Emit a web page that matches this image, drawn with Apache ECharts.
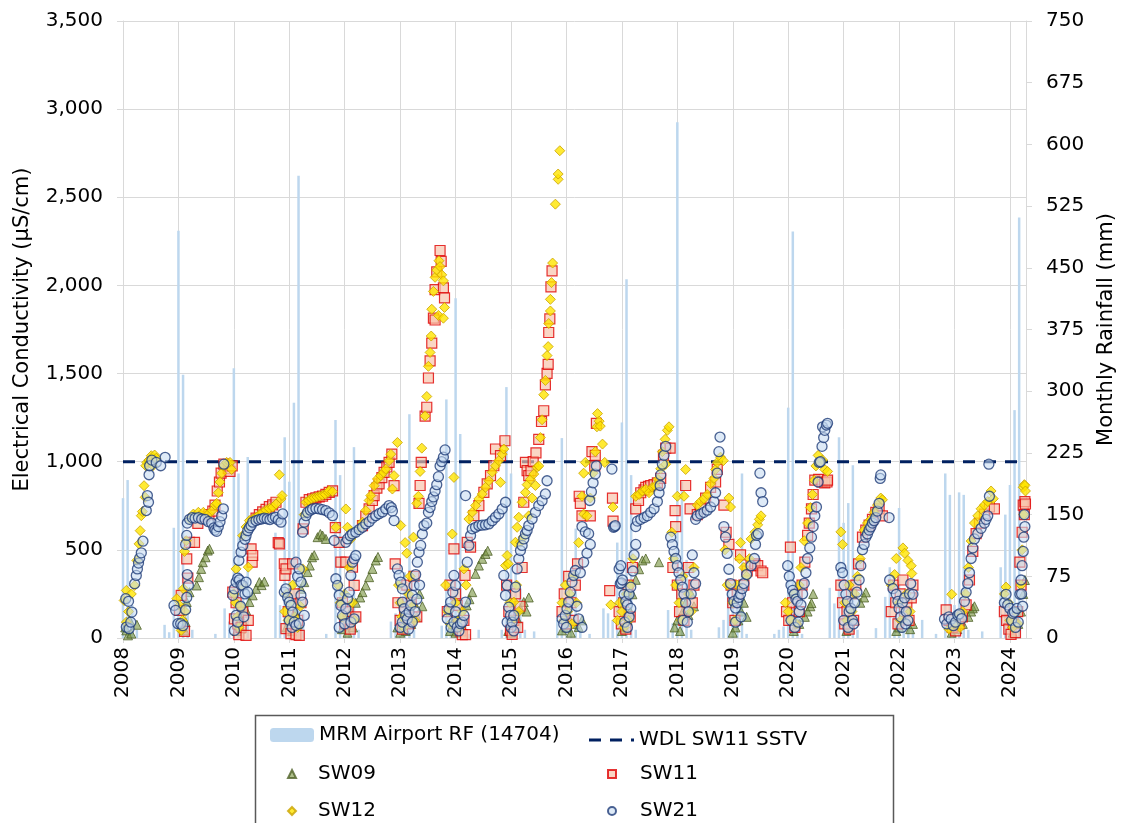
<!DOCTYPE html>
<html>
<head>
<meta charset="utf-8">
<script src="https://cdn.jsdelivr.net/npm/echarts@6/dist/echarts.min.js"></script>
<style>
html,body{margin:0;padding:0;background:#fff;}
#chart{width:1125px;height:823px;}
</style>
</head>
<body>
<div id="chart"></div>
<script>
// ---------------- DATA ----------------
const xMin = 2008, xMax = 2024.29;
const ecTicks = [0, 500, 1000, 1500, 2000, 2500, 3000, 3500];
const rainTicks = [0, 75, 150, 225, 300, 375, 450, 525, 600, 675, 750];
const sstvValue = 1000;

// Monthly rainfall (mm), Jan..Dec, starting Jan 2008
const rainFirstYear = 2008;
const rainMm = [
  170,192,40,10,0,0,0,0,0,16,7,134,      // 2008
  495,320,30,10,0,0,0,0,5,0,36,20,       // 2009
  328,200,60,220,0,0,0,0,0,128,40,244,   // 2010
  190,286,562,30,0,0,0,0,5,0,265,198,    // 2011
  60,40,232,10,0,0,0,0,0,0,20,30,        // 2012
  40,80,272,10,0,0,0,0,0,15,290,50,      // 2013
  413,248,40,5,0,10,0,0,0,0,10,305,      // 2014
  200,80,60,10,0,8,0,0,0,0,22,243,       // 2015
  50,50,133,10,0,5,0,0,36,30,22,116,     // 2016
  262,436,198,10,0,0,0,0,0,0,34,18,      // 2017
  627,190,95,10,0,0,0,0,0,13,22,73,      // 2018
  42,50,200,5,0,0,0,0,0,5,10,14,         // 2019
  280,494,30,5,0,0,0,0,0,61,42,244,      // 2020
  140,164,210,10,0,0,0,12,0,50,86,26,    // 2021
  158,40,30,10,0,22,0,0,5,0,200,174,     // 2022
  40,177,174,10,0,0,8,0,0,0,86,150,      // 2023
  186,277,511                            // 2024
];

// EC readings [decimal year, µS/cm]
const sw09 = [
  [2008.04,60],[2008.06,43],[2008.09,15],[2008.12,100],[2008.15,25],[2008.25,75],
  [2009.08,60],[2009.11,43],[2009.13,90],[2009.15,204],[2009.2,260],[2009.33,298],[2009.37,345],[2009.41,392],[2009.44,430],[2009.49,458],[2009.53,496],[2009.56,506],
  [2010.05,40],[2010.1,80],[2010.13,53],[2010.16,100],[2010.22,157],[2010.28,204],[2010.34,242],[2010.4,279],[2010.46,317],[2010.5,300],[2010.55,320],
  [2010.95,60],[2011.0,100],[2011.05,40],[2011.1,150],[2011.15,80],[2011.21,279],[2011.27,317],[2011.33,374],[2011.37,411],[2011.41,458],[2011.45,470],[2011.51,572],[2011.56,590],[2011.6,581],[2011.66,562],
  [2011.95,50],[2012.0,80],[2012.05,30],[2012.1,150],[2012.15,60],[2012.2,200],[2012.28,230],[2012.32,260],[2012.38,298],[2012.44,345],[2012.5,392],[2012.56,440],[2012.6,460],
  [2012.95,60],[2013.0,30],[2013.05,100],[2013.1,40],[2013.15,150],[2013.2,80],[2013.25,200],[2013.3,120],[2013.35,250],[2013.4,180],
  [2013.9,40],[2013.95,80],[2014.0,30],[2014.05,100],[2014.1,60],[2014.2,185],[2014.25,220],[2014.3,260],[2014.36,364],[2014.42,411],[2014.48,449],[2014.54,477],[2014.58,495],
  [2014.95,40],[2015.0,30],[2015.05,60],[2015.11,109],[2015.17,166],[2015.23,204],[2015.28,150],[2015.32,230],
  [2015.92,43],[2016.0,60],[2016.08,30],[2016.15,80],[2016.22,62],[2016.28,100],
  [2017.0,40],[2017.05,60],[2017.1,100],[2017.15,150],[2017.19,248],[2017.25,330],[2017.31,390],[2017.37,440],[2017.43,451],[2017.67,430],
  [2017.95,60],[2018.0,100],[2018.05,40],[2018.1,150],[2018.15,200],[2018.2,130],[2018.25,250],[2018.3,180],
  [2019.0,30],[2019.05,60],[2019.1,100],[2019.15,150],[2019.2,200],[2019.25,120],
  [2020.1,40],[2020.2,80],[2020.3,120],[2020.35,150],[2020.4,180],[2020.42,198],[2020.45,250],
  [2021.05,40],[2021.1,60],[2021.2,100],[2021.3,200],[2021.37,230],[2021.4,259],
  [2021.95,40],[2022.0,60],[2022.1,100],[2022.2,50],[2022.25,80],
  [2022.95,30],[2023.05,50],[2023.15,80],[2023.25,120],[2023.3,150],[2023.33,168],[2023.36,180],
  [2024.05,30],[2024.15,80],[2024.2,150],[2024.24,250],[2024.27,329]
];

const sw11 = [
  [2009.02,157],[2009.05,242],[2009.11,38],[2009.15,449],[2009.17,340],[2009.2,543],[2009.29,543],[2009.35,650],[2009.45,690],[2009.55,700],[2009.62,720],[2009.66,754],[2009.7,834],[2009.74,885],[2009.77,935],[2009.82,986],[2009.9,960],[2009.93,945],[2009.97,976],
  [2009.98,260],[2010.01,109],[2010.04,200],[2010.07,80],[2010.09,19],[2010.13,60],[2010.16,147],[2010.22,15],[2010.26,100],[2010.31,506],[2010.33,430],[2010.34,468],[2010.4,680],[2010.46,700],[2010.52,715],[2010.58,730],[2010.64,745],[2010.7,755],[2010.76,770],[2010.8,541],[2010.82,534],
  [2010.91,421],[2010.92,355],[2010.94,53],[2010.94,392],[2010.98,150],[2011.03,25],[2011.06,421],[2011.09,250],[2011.12,19],[2011.15,100],[2011.18,15],[2011.21,200],[2011.25,619],[2011.3,770],[2011.36,785],[2011.42,790],[2011.48,795],[2011.54,800],[2011.6,805],[2011.66,815],[2011.72,826],[2011.78,835],[2011.83,626],[2011.9,543],
  [2011.93,430],[2011.96,200],[2012.0,80],[2012.02,430],[2012.06,150],[2012.1,50],[2012.14,402],[2012.17,298],[2012.2,120],[2012.32,638],[2012.38,690],[2012.44,732],[2012.5,780],[2012.53,808],[2012.58,850],[2012.62,874],[2012.67,910],[2012.71,940],[2012.76,970],[2012.8,996],[2012.85,1043],[2012.89,864],[2012.91,421],
  [2012.96,200],[2013.0,100],[2013.04,50],[2013.08,150],[2013.12,300],[2013.16,80],[2013.2,200],[2013.25,350],[2013.3,120],[2013.34,764],[2013.36,865],[2013.38,996],[2013.45,1259],[2013.48,1309],[2013.51,1475],[2013.54,1572],[2013.57,1673],[2013.6,1814],[2013.63,1976],[2013.63,1804],[2013.66,2077],[2013.72,2198],[2013.74,2137],[2013.78,1986],[2013.8,1929],
  [2013.85,150],[2013.9,300],[2013.97,506],[2014.0,250],[2014.03,185],[2014.06,80],[2014.09,40],[2014.12,19],[2014.15,100],[2014.17,355],[2014.18,19],[2014.21,543],[2014.27,515],[2014.33,694],[2014.42,751],[2014.51,826],[2014.57,874],[2014.63,921],[2014.69,977],[2014.72,1072],[2014.81,1034],[2014.89,1119],
  [2014.92,300],[2014.96,150],[2014.99,43],[2015.02,20],[2015.05,100],[2015.08,250],[2015.12,60],[2015.16,180],[2015.2,400],[2015.23,770],[2015.26,996],[2015.29,949],[2015.32,921],[2015.36,950],[2015.4,1000],[2015.45,1050],[2015.5,1127],[2015.55,1228],[2015.59,1289],[2015.62,1436],[2015.65,1501],[2015.67,1552],[2015.68,1733],[2015.7,1810],[2015.72,1992],[2015.74,2083],
  [2015.92,150],[2015.96,250],[2016.0,80],[2016.04,350],[2016.08,200],[2016.12,100],[2016.16,300],[2016.2,420],[2016.23,804],[2016.25,764],[2016.28,693],[2016.43,693],[2016.46,1057],[2016.51,976],[2016.52,1036],[2016.54,1218],[2016.78,269],[2016.83,794],[2016.84,663],
  [2016.95,150],[2016.99,80],[2017.03,200],[2017.07,50],[2017.11,300],[2017.15,120],[2017.19,400],[2017.25,733],[2017.3,780],[2017.34,824],[2017.4,840],[2017.43,855],[2017.48,860],[2017.52,865],[2017.58,870],[2017.64,880],[2017.7,905],[2017.75,1036],[2017.79,1077],[2017.87,1077],
  [2017.92,400],[2017.96,723],[2017.97,632],[2018.0,300],[2018.04,150],[2018.08,250],[2018.12,100],[2018.15,865],[2018.2,400],[2018.23,733],[2018.27,200],[2018.3,300],[2018.36,700],[2018.42,733],[2018.51,794],[2018.6,855],[2018.69,885],[2018.72,956],
  [2018.84,754],[2018.88,600],[2018.93,531],[2018.97,300],[2019.0,200],[2019.04,100],[2019.08,250],[2019.14,471],[2019.2,300],[2019.26,380],[2019.33,410],[2019.4,420],[2019.45,410],[2019.51,380],[2019.54,370],
  [2019.97,150],[2020.01,100],[2020.04,515],[2020.08,200],[2020.12,60],[2020.16,250],[2020.2,150],[2020.25,300],[2020.3,430],[2020.35,582],[2020.38,652],[2020.42,733],[2020.45,814],[2020.48,895],[2020.55,900],[2020.61,885],[2020.66,880],[2020.7,885],[2020.71,895],
  [2020.95,300],[2020.98,200],[2021.02,80],[2021.06,150],[2021.1,50],[2021.14,250],[2021.18,100],[2021.22,300],[2021.27,420],[2021.34,572],[2021.4,612],[2021.46,640],[2021.52,673],[2021.58,713],[2021.64,733],[2021.7,693],
  [2021.86,150],[2021.9,300],[2021.94,200],[2021.98,80],[2022.02,250],[2022.07,329],[2022.1,150],[2022.14,200],[2022.18,100],[2022.22,228],[2022.25,300],
  [2022.85,160],[2022.9,100],[2022.96,60],[2023.02,40],[2023.08,80],[2023.14,120],[2023.21,188],[2023.27,329],[2023.33,491],[2023.39,592],[2023.45,652],[2023.54,703],[2023.63,743],[2023.72,733],
  [2023.9,150],[2023.94,100],[2023.98,50],[2024.02,20],[2024.06,80],[2024.1,30],[2024.14,150],[2024.18,430],[2024.2,300],[2024.22,600],[2024.24,754],[2024.26,700],[2024.27,774],[2024.28,760]
];

const sw12 = [
  [2008.02,213],[2008.06,270],[2008.06,90],[2008.1,150],[2008.15,250],[2008.21,298],[2008.25,440],[2008.29,534],[2008.31,609],[2008.33,694],[2008.35,717],[2008.38,864],[2008.4,798],[2008.41,977],[2008.43,996],[2008.47,1010],[2008.51,1034],[2008.54,977],[2008.57,1038],[2008.6,1020],
  [2008.97,223],[2009.02,185],[2009.05,43],[2009.07,100],[2009.09,279],[2009.11,491],[2009.12,150],[2009.14,552],[2009.2,673],[2009.27,703],[2009.36,713],[2009.45,713],[2009.54,703],[2009.61,723],[2009.66,754],[2009.69,764],[2009.72,824],[2009.75,885],[2009.78,935],[2009.81,976],[2009.87,996],[2009.93,996],[2009.96,956],
  [2010.0,250],[2010.03,200],[2010.04,392],[2010.06,120],[2010.09,60],[2010.12,180],[2010.15,300],[2010.26,402],[2010.16,581],[2010.22,630],[2010.28,666],[2010.34,675],[2010.4,685],[2010.46,700],[2010.52,712],[2010.58,725],[2010.64,735],[2010.7,742],[2010.76,760],[2010.82,926],[2010.85,789],[2010.87,808],
  [2010.92,150],[2010.95,250],[2010.98,100],[2011.02,200],[2011.06,300],[2011.1,120],[2011.15,60],[2011.2,180],[2011.24,392],[2011.27,700],[2011.3,770],[2011.35,780],[2011.4,790],[2011.45,795],[2011.5,800],[2011.55,805],[2011.6,810],[2011.65,815],[2011.7,826],[2011.72,836],[2011.78,830],[2011.84,628],
  [2011.88,300],[2011.92,200],[2011.95,120],[2012.0,250],[2012.02,732],[2012.05,628],[2012.08,400],[2012.11,562],[2012.14,200],[2012.18,100],[2012.26,619],[2012.32,657],[2012.38,723],[2012.44,780],[2012.47,808],[2012.53,864],[2012.59,902],[2012.65,921],[2012.7,940],[2012.74,958],[2012.8,1006],[2012.83,1043],[2012.86,845],[2012.89,921],[2012.95,1109],[2013.01,638],
  [2012.97,300],[2013.0,200],[2013.03,120],[2013.06,60],[2013.09,541],[2013.12,481],[2013.15,250],[2013.18,350],[2013.22,180],[2013.24,572],[2013.26,100],[2013.3,764],[2013.33,804],[2013.36,945],[2013.39,1077],[2013.45,1260],[2013.48,1370],[2013.51,1541],[2013.54,1620],[2013.56,1713],[2013.57,1865],[2013.6,1966],[2013.63,2046],[2013.66,2087],[2013.69,1830],[2013.7,2140],[2013.72,2107],[2013.75,2060],[2013.78,2026],[2013.78,1814],[2013.8,1875],
  [2013.82,300],[2013.86,150],[2013.9,80],[2013.94,590],[2013.97,911],[2014.0,200],[2014.04,100],[2014.08,60],[2014.12,150],[2014.15,392],[2014.19,300],[2014.24,675],[2014.3,713],[2014.36,751],[2014.42,789],[2014.48,817],[2014.54,855],[2014.6,892],[2014.66,940],[2014.72,977],[2014.78,1006],[2014.81,883],[2014.84,1043],[2014.87,1072],
  [2014.9,411],[2014.93,468],[2014.95,421],[2014.98,200],[2015.02,100],[2015.05,204],[2015.08,543],[2015.1,300],[2015.14,150],[2015.17,543],[2015.11,628],[2015.14,685],[2015.2,770],[2015.22,572],[2015.26,826],[2015.29,870],[2015.32,693],[2015.35,900],[2015.38,794],[2015.41,930],[2015.44,865],[2015.47,968],[2015.5,976],[2015.53,1137],[2015.56,1238],[2015.59,1380],[2015.62,1461],[2015.65,1602],[2015.67,1653],[2015.68,1784],[2015.71,1855],[2015.71,1921],[2015.73,2016],[2015.75,2127],[2015.8,2461],[2015.85,2602],[2015.85,2632],[2015.88,2764],
  [2015.92,200],[2015.95,100],[2015.98,300],[2016.02,150],[2016.06,250],[2016.1,80],[2016.14,350],[2016.18,200],[2016.22,541],[2016.28,804],[2016.31,703],[2016.31,935],[2016.34,996],[2016.37,693],[2016.43,794],[2016.48,935],[2016.52,1057],[2016.55,1198],[2016.56,1273],[2016.59,1230],[2016.61,1202],[2016.65,1100],[2016.69,996],[2016.8,188],[2016.84,743],
  [2016.92,100],[2016.96,200],[2017.0,150],[2017.04,60],[2017.08,250],[2017.12,100],[2017.16,300],[2017.2,450],[2017.25,804],[2017.31,814],[2017.37,834],[2017.43,844],[2017.49,824],[2017.55,855],[2017.6,860],[2017.65,900],[2017.7,960],[2017.73,1057],[2017.78,1127],[2017.79,986],[2017.82,1178],[2017.85,1198],
  [2017.9,600],[2017.93,450],[2017.97,300],[2018.0,804],[2018.03,200],[2018.07,100],[2018.1,350],[2018.12,804],[2018.15,956],[2018.2,250],[2018.25,150],[2018.3,400],[2018.36,754],[2018.42,774],[2018.48,790],[2018.54,814],[2018.6,875],[2018.66,905],[2018.69,956],[2018.72,996],[2018.78,1026],[2018.83,1006],
  [2018.86,500],[2018.9,300],[2018.93,794],[2018.96,743],[2019.0,200],[2019.04,100],[2019.08,300],[2019.12,450],[2019.14,541],[2019.2,400],[2019.25,350],[2019.3,450],[2019.33,562],[2019.4,600],[2019.45,642],[2019.48,673],[2019.51,693],
  [2019.95,200],[2020.0,150],[2020.05,100],[2020.1,250],[2020.15,80],[2020.2,300],[2020.23,400],[2020.29,552],[2020.35,652],[2020.4,740],[2020.44,814],[2020.47,895],[2020.5,976],[2020.54,1036],[2020.58,1000],[2020.62,1010],[2020.66,956],[2020.71,945],
  [2020.95,602],[2020.98,531],[2021.02,200],[2021.06,100],[2021.1,300],[2021.15,150],[2021.2,250],[2021.25,350],[2021.3,450],[2021.37,612],[2021.43,652],[2021.49,673],[2021.55,713],[2021.61,754],[2021.67,794],[2021.7,784],
  [2021.86,300],[2021.92,360],[2021.95,451],[2022.0,200],[2022.03,100],[2022.07,511],[2022.1,481],[2022.13,250],[2022.16,440],[2022.2,150],[2022.22,410],[2022.23,366],
  [2022.9,50],[2022.95,248],[2023.0,80],[2023.05,120],[2023.1,60],[2023.15,150],[2023.2,250],[2023.25,400],[2023.3,550],[2023.36,652],[2023.42,693],[2023.48,733],[2023.54,754],[2023.6,774],[2023.66,834],[2023.7,790],
  [2023.9,250],[2023.93,289],[2023.97,200],[2024.0,100],[2024.05,60],[2024.1,150],[2024.15,80],[2024.2,300],[2024.22,500],[2024.24,855],[2024.25,700],[2024.26,870],[2024.27,865],[2024.28,834]
];

const sw21 = [
  [2008.05,223],[2008.06,62],[2008.10,208],[2008.11,53],[2008.14,90],[2008.16,147],[2008.21,308],[2008.24,355],[2008.26,392],[2008.28,425],[2008.30,453],[2008.33,483],[2008.36,549],[2008.42,723],[2008.44,808],[2008.46,770],[2008.47,926],[2008.48,977],[2008.52,1009],[2008.60,996],[2008.68,977],[2008.76,1025],
  [2008.92,185],[2008.95,157],[2008.99,81],[2009.04,81],[2009.08,70],[2009.13,160],[2009.15,230],[2009.16,360],[2009.18,299],[2009.13,531],[2009.15,582],[2009.16,652],[2009.2,673],[2009.25,683],[2009.3,680],[2009.36,683],[2009.42,675],[2009.48,673],[2009.54,660],[2009.6,652],[2009.64,625],[2009.66,612],[2009.69,605],[2009.72,632],[2009.75,660],[2009.78,693],[2009.81,733],[2009.82,986],
  [2009.98,242],[2010.01,279],[2010.01,43],[2010.04,317],[2010.04,128],[2010.07,340],[2010.07,90],[2010.1,330],[2010.12,180],[2010.13,300],[2010.16,298],[2010.18,120],[2010.2,250],[2010.22,317],[2010.25,260],[2010.09,440],[2010.13,487],[2010.16,525],[2010.2,560],[2010.22,581],[2010.25,609],[2010.28,625],[2010.31,638],[2010.34,657],[2010.4,666],[2010.45,672],[2010.5,675],[2010.55,680],[2010.6,676],[2010.65,672],[2010.7,680],[2010.75,685],[2010.8,670],[2010.85,657],[2010.88,704],
  [2010.91,260],[2010.94,279],[2010.97,230],[2011.0,204],[2011.0,100],[2011.03,185],[2011.05,60],[2011.06,147],[2011.09,90],[2011.12,430],[2011.12,72],[2011.15,350],[2011.18,392],[2011.18,81],[2011.21,317],[2011.21,242],[2011.24,204],[2011.27,128],[2011.24,600],[2011.27,657],[2011.3,694],[2011.33,713],[2011.38,725],[2011.42,732],[2011.48,735],[2011.54,732],[2011.6,728],[2011.66,723],[2011.72,710],[2011.78,694],[2011.81,553],
  [2011.84,336],[2011.87,298],[2011.9,242],[2011.9,60],[2011.93,185],[2011.96,128],[2012.0,80],[2012.02,166],[2012.05,223],[2012.08,260],[2012.11,355],[2012.11,90],[2012.14,430],[2012.17,449],[2012.17,109],[2012.2,468],[2012.02,543],[2012.05,562],[2012.1,580],[2012.14,591],[2012.2,600],[2012.26,615],[2012.32,628],[2012.38,647],[2012.44,660],[2012.5,680],[2012.56,694],[2012.62,705],[2012.68,715],[2012.74,732],[2012.8,751],[2012.84,740],[2012.86,720],[2012.89,666],
  [2012.95,392],[2012.98,355],[2013.0,60],[2013.01,317],[2013.04,279],[2013.04,204],[2013.04,90],[2013.07,166],[2013.1,128],[2013.13,109],[2013.15,50],[2013.16,147],[2013.19,185],[2013.22,242],[2013.22,90],[2013.25,298],[2013.27,150],[2013.28,360],[2013.3,220],[2013.31,430],[2013.34,487],[2013.35,300],[2013.37,525],[2013.4,590],[2013.43,638],[2013.48,652],[2013.51,713],[2013.54,740],[2013.57,774],[2013.6,800],[2013.63,834],[2013.66,870],[2013.69,915],[2013.72,976],[2013.75,1000],[2013.78,1026],[2013.81,1067],
  [2013.85,109],[2013.88,166],[2013.91,204],[2013.92,60],[2013.95,260],[2013.97,355],[2013.97,90],[2014.0,298],[2014.0,150],[2014.03,62],[2014.06,40],[2014.09,81],[2014.12,90],[2014.15,128],[2014.18,204],[2014.18,808],[2014.21,430],[2014.24,525],[2014.27,581],[2014.3,619],[2014.36,628],[2014.42,638],[2014.48,640],[2014.54,642],[2014.6,647],[2014.66,665],[2014.72,685],[2014.78,704],[2014.84,732],[2014.9,770],
  [2014.87,355],[2014.9,242],[2014.93,298],[2014.93,90],[2014.96,175],[2014.99,128],[2015.0,60],[2015.02,90],[2015.05,128],[2015.05,40],[2015.08,289],[2015.11,392],[2015.14,449],[2015.17,496],[2015.2,525],[2015.23,562],[2015.26,591],[2015.29,610],[2015.32,638],[2015.38,675],[2015.44,713],[2015.5,751],[2015.56,779],[2015.62,817],[2015.65,892],
  [2015.92,109],[2015.95,80],[2015.98,128],[2016.0,60],[2016.01,166],[2016.04,204],[2016.07,260],[2016.1,317],[2016.13,355],[2016.16,383],[2016.19,180],[2016.22,109],[2016.25,370],[2016.28,60],[2016.31,430],[2016.37,481],[2016.28,632],[2016.34,602],[2016.4,592],[2016.43,531],[2016.42,780],[2016.45,830],[2016.48,880],[2016.52,930],[2016.54,976],[2016.82,958],[2016.85,628],[2016.87,632],[2016.88,638],[2016.95,392],[2016.97,308],[2016.99,313],
  [2016.98,410],[2017.01,329],[2017.04,248],[2017.05,90],[2017.07,208],[2017.1,188],[2017.1,60],[2017.13,248],[2017.13,120],[2017.16,289],[2017.16,168],[2017.2,380],[2017.22,471],[2017.25,531],[2017.25,632],[2017.28,663],[2017.34,673],[2017.4,683],[2017.46,693],[2017.52,713],[2017.58,733],[2017.64,774],[2017.67,824],[2017.69,865],[2017.7,925],[2017.73,986],[2017.76,1036],[2017.79,1087],
  [2017.88,572],[2017.91,530],[2017.94,491],[2017.97,451],[2018.0,410],[2018.03,370],[2018.06,329],[2018.09,289],[2018.1,100],[2018.12,248],[2018.15,200],[2018.18,90],[2018.2,150],[2018.25,250],[2018.27,471],[2018.3,370],[2018.33,309],[2018.33,673],[2018.36,693],[2018.42,703],[2018.48,713],[2018.54,725],[2018.6,743],[2018.66,774],[2018.69,824],[2018.72,935],[2018.75,1057],[2018.77,1140],
  [2018.84,632],[2018.87,572],[2018.9,480],[2018.93,390],[2018.96,309],[2018.99,248],[2019.02,208],[2019.05,170],[2019.05,90],[2019.08,200],[2019.11,230],[2019.14,248],[2019.15,120],[2019.17,280],[2019.2,309],[2019.25,360],[2019.33,410],[2019.39,451],[2019.41,531],[2019.43,582],[2019.46,592],[2019.49,935],[2019.51,824],[2019.54,774],
  [2019.99,410],[2020.02,350],[2020.05,300],[2020.05,100],[2020.08,270],[2020.11,248],[2020.12,60],[2020.14,220],[2020.17,208],[2020.18,90],[2020.2,150],[2020.23,188],[2020.26,250],[2020.29,310],[2020.32,370],[2020.35,451],[2020.39,511],[2020.42,572],[2020.45,632],[2020.48,693],[2020.51,743],[2020.54,885],[2020.56,996],[2020.58,1000],[2020.61,1087],[2020.62,1198],[2020.64,1137],[2020.66,1178],[2020.69,1208],[2020.71,1218],
  [2020.95,400],[2020.98,370],[2021.0,100],[2021.01,300],[2021.04,248],[2021.07,208],[2021.08,60],[2021.1,150],[2021.13,168],[2021.16,100],[2021.18,80],[2021.2,200],[2021.24,260],[2021.28,329],[2021.31,410],[2021.34,501],[2021.37,531],[2021.4,572],[2021.43,590],[2021.46,612],[2021.49,630],[2021.52,652],[2021.55,665],[2021.58,683],[2021.61,720],[2021.64,764],[2021.66,905],[2021.67,925],[2021.82,683],
  [2021.83,329],[2021.89,280],[2021.95,248],[2021.98,208],[2022.0,168],[2022.03,120],[2022.05,60],[2022.06,200],[2022.1,228],[2022.12,80],[2022.13,150],[2022.16,100],[2022.19,250],[2022.21,309],[2022.25,248],
  [2022.82,107],[2022.86,80],[2022.9,120],[2022.94,107],[2022.98,70],[2023.02,90],[2023.06,130],[2023.09,137],[2023.13,110],[2023.18,208],[2023.21,259],[2023.24,309],[2023.27,370],[2023.3,451],[2023.33,511],[2023.36,562],[2023.42,592],[2023.48,622],[2023.54,652],[2023.57,673],[2023.6,693],[2023.63,804],[2023.62,986],
  [2023.9,200],[2023.93,248],[2023.96,188],[2024.0,168],[2024.03,100],[2024.05,140],[2024.08,147],[2024.1,60],[2024.13,168],[2024.15,90],[2024.18,248],[2024.2,329],[2024.21,250],[2024.22,410],[2024.23,180],[2024.24,491],[2024.25,572],[2024.26,700],[2024.27,632]
];

// ---------------- CHART ----------------
const FONT = 'DejaVu Sans';
const rainData = rainMm.map((v, i) => [rainFirstYear + Math.floor(i / 12) + (i % 12) / 12, v]);
const thousands = v => String(v).replace(/\B(?=(\d{3})+(?!\d))/g, ',');
const gridColor = '#d9d9d9';

const chart = echarts.init(document.getElementById('chart'), null, {renderer: 'canvas'});

function legendItem(name, left, top, w, h, padLeft, extra) {
  return Object.assign({
    data: [name], left: left, top: top, itemWidth: w, itemHeight: h,
    orient: 'horizontal', itemGap: 0, padding: 0, selectedMode: false,
    textStyle: {fontFamily: FONT, fontSize: 20, color: '#000', padding: [0, 0, 0, padLeft]}
  }, extra || {});
}

const dashIcon = 'path://M0,0h12v3h-12z M21,0h12v3h-12z M42,0h3v3h-3z';

const option = {
  animation: false,
  backgroundColor: '#fff',
  grid: {left: 123, right: 96, top: 21, bottom: 185, containLabel: false},
  xAxis: {
    type: 'value', min: xMin, max: xMax, interval: 1,
    axisLine: {show: true, lineStyle: {color: gridColor, width: 1}},
    axisTick: {show: true, length: 5, lineStyle: {color: gridColor}},
    splitLine: {show: true, lineStyle: {color: gridColor, width: 1}},
    axisLabel: {
      rotate: 90, margin: 9, fontFamily: FONT, fontSize: 20, color: '#000',
      showMaxLabel: false,
      formatter: v => (Math.abs(v - Math.round(v)) < 1e-6 ? String(Math.round(v)) : '')
    }
  },
  yAxis: [
    {
      type: 'value', min: ecTicks[0], max: ecTicks[ecTicks.length - 1], interval: 500,
      name: 'Electrical Conductivity (µS/cm)', nameLocation: 'middle', nameRotate: 90, nameGap: 90,
      nameTextStyle: {fontFamily: FONT, fontSize: 21, color: '#000'},
      axisLine: {show: true, lineStyle: {color: gridColor}},
      axisTick: {show: true, length: 6, lineStyle: {color: gridColor}},
      splitLine: {show: true, lineStyle: {color: gridColor}},
      axisLabel: {margin: 20, fontFamily: FONT, fontSize: 20, color: '#000', formatter: thousands}
    },
    {
      type: 'value', min: rainTicks[0], max: rainTicks[rainTicks.length - 1], interval: 75, position: 'right',
      name: 'Monthly Rainfall (mm)', nameLocation: 'middle', nameRotate: 90, nameGap: 70,
      nameTextStyle: {fontFamily: FONT, fontSize: 21, color: '#000'},
      axisLine: {show: true, lineStyle: {color: gridColor}},
      axisTick: {show: true, length: 6, lineStyle: {color: gridColor}},
      splitLine: {show: false},
      axisLabel: {margin: 20, fontFamily: FONT, fontSize: 20, color: '#000'}
    }
  ],
  legend: [
    legendItem('MRM Airport RF (14704)', 270, 725, 44, 14, 0),
    legendItem({name: 'WDL SW11 SSTV', icon: dashIcon}, 589, 730, 45, 3, 0),
    legendItem('SW09', 287, 764, 8, 8, 17),
    legendItem('SW11', 607, 764, 8, 8, 19),
    legendItem('SW12', 287, 801, 8, 8, 17),
    legendItem('SW21', 607, 801, 8, 8, 19)
  ],
  graphic: [{
    type: 'rect', left: 253, top: 713, z: 0,
    shape: {width: 638, height: 130},
    style: {fill: 'none', stroke: '#595959', lineWidth: 1.5}
  }],
  series: [
    {
      name: 'MRM Airport RF (14704)', type: 'bar', yAxisIndex: 1, data: rainData,
      barWidth: 2.5, itemStyle: {color: '#bdd7ee'}, z: 1, silent: true
    },
    {
      name: 'WDL SW11 SSTV', type: 'line', yAxisIndex: 0,
      data: [[xMin, sstvValue], [xMax, sstvValue]],
      symbol: 'none', lineStyle: {color: '#002060', width: 3, type: [12, 9]},
      itemStyle: {color: '#002060'}, z: 2, silent: true
    },
    {
      name: 'SW09', type: 'scatter', data: sw09, symbol: 'triangle', symbolSize: 9,
      itemStyle: {color: 'rgba(119,147,60,0.75)', borderColor: '#4f6228', borderWidth: 1}, z: 3
    },
    {
      name: 'SW11', type: 'scatter', data: sw11, symbol: 'rect', symbolSize: 10,
      itemStyle: {color: 'rgba(248,195,170,0.85)', borderColor: '#e00000', borderWidth: 1.2}, z: 4
    },
    {
      name: 'SW12', type: 'scatter', data: sw12, symbol: 'diamond', symbolSize: 10,
      itemStyle: {color: '#ffe500', borderColor: '#c9a200', borderWidth: 1}, z: 5
    },
    {
      name: 'SW21', type: 'scatter', data: sw21, symbol: 'circle', symbolSize: 10,
      itemStyle: {color: 'rgba(197,217,241,0.7)', borderColor: '#1f3c78', borderWidth: 1.3}, z: 6
    }
  ]
};
chart.setOption(option);
</script>
</body>
</html>
